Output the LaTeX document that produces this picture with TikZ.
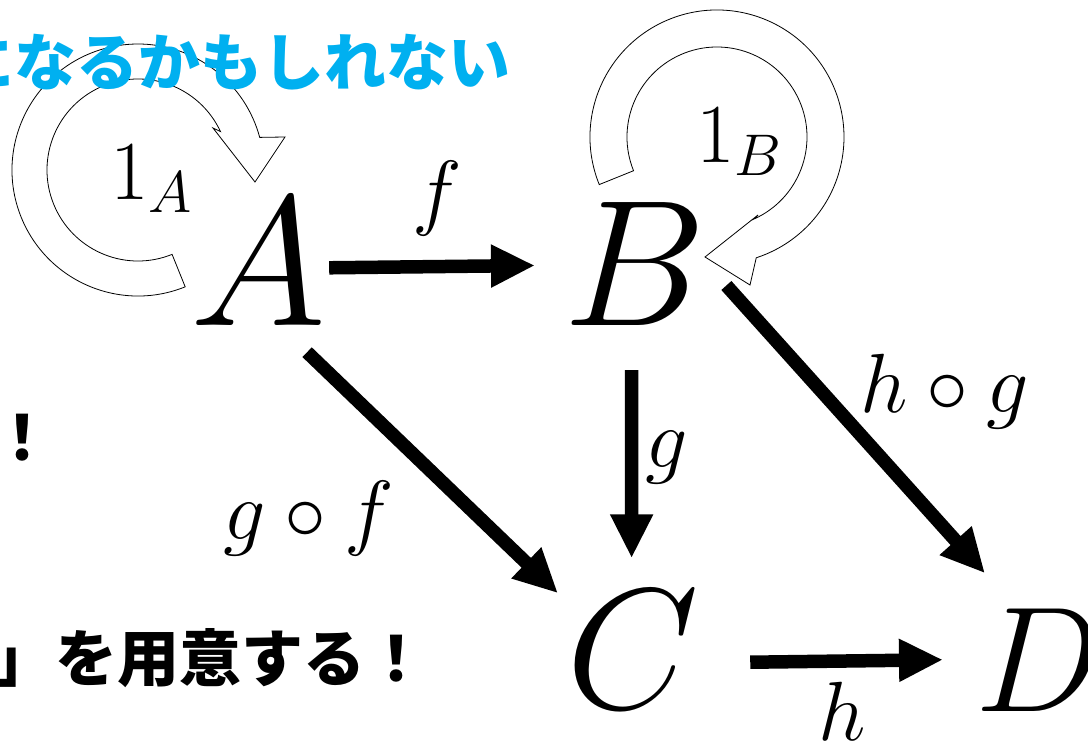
\RequirePackage{fix-cm}
\documentclass[tikz,border=0pt]{standalone}
\usepackage{fontspec}
\newfontfamily\jpfont{Noto Sans CJK JP}
\usetikzlibrary{arrows.meta,calc}
\definecolor{captionblue}{rgb}{0.0,0.69,0.94}
\tikzset{
  obj/.style={anchor=base west,inner sep=0pt},
  lbl/.style={anchor=base west,inner sep=0pt,font=\fontsize{84}{84}\selectfont},
  morph/.style={line width=13.5pt,-{Triangle[length=44pt,width=40pt]}},
  loopband/.style={draw=black,line width=0.8pt,fill=white},
  jptext/.style={anchor=base west,inner sep=0pt,font=\jpfont\bfseries\fontsize{62}{62}\selectfont}
}
\begin{document}
\begin{tikzpicture}[x=1pt,y=-1pt]
\useasboundingbox (0,0) rectangle (1088,741);
\fill[white] (0,0) rectangle (1088,741);
\clip (0,0) rectangle (1088,741);
\coordinate (cA) at (138,170);
\coordinate (cB) at (717,137);
\draw[loopband] ($(cA)+(68:126)$) arc[start angle=68,end angle=345,radius=126]
  -- (285,137) -- (255,182) -- (213,128) -- ($(cA)+(335:91)$)
  arc[start angle=335,end angle=68,radius=91] -- cycle;
\draw[loopband] ($(cB)+(-202:127)$) arc[start angle=-202,end angle=72,radius=127]
  -- (750,285) -- (705,257) -- (758,215) -- ($(cB)+(66:90)$)
  arc[start angle=66,end angle=-202,radius=90] -- cycle;
\node[jptext,text=captionblue] (warn) at (-48,86) {になるかもしれない};
\node[jptext] (excl) at (-9,460) {！};
\node[jptext] (prep) at (-7,681) {」を用意する！};
\node[obj,font=\fontsize{185}{185}\selectfont] (A) at (190,325) {$A$};
\node[obj,font=\fontsize{180}{180}\selectfont] (B) at (563,325) {$B$};
\node[obj,font=\fontsize{172}{172}\selectfont] (C) at (566,708) {$C$};
\node[obj,font=\fontsize{150}{150}\selectfont] (D) at (975,711) {$D$};
\node[lbl] (lidA) at (110,200) {$1_A$};
\node[lbl] (lidB) at (696,163) {$1_B$};
\node[lbl] (lf) at (412,219) {$f$};
\node[lbl] (lg) at (645,467) {$g$};
\node[lbl] (lgf) at (223,539) {$g\circ f$};
\node[lbl] (lhg) at (860,412) {$h\circ g$};
\node[lbl] (lh) at (818,740) {$h$};
\draw[morph] ($(A.east)+(3,6)$) -- ($(B.west)+(-28,2)$);
\draw[morph] ($(A.south)+(49,27)$) -- ($(C.north west)+(-8,3)$);
\draw[morph] ($(B.south)+(-3,45)$) -- ($(C.north)+(-1,-32)$);
\draw[morph] ($(B.east)+(20,22)$) -- ($(D.north west)+(10,-35)$);
\draw[morph] ($(C.east)+(51,13)$) -- ($(D.west)+(-32,0)$);
\end{tikzpicture}
\end{document}
